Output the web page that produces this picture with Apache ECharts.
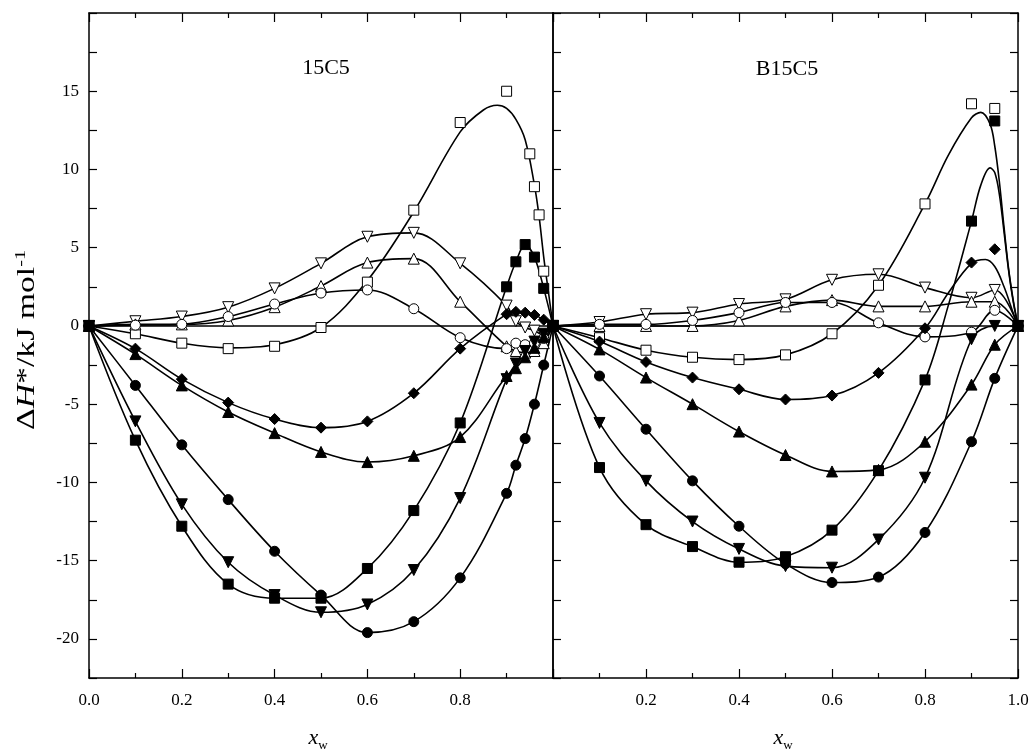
<!DOCTYPE html>
<html><head><meta charset="utf-8">
<script src="https://cdn.jsdelivr.net/npm/echarts@6/dist/echarts.min.js"></script>
<style>html,body{margin:0;padding:0;background:#fff}#c{width:1033px;height:754px}</style>
</head><body><div id="c"></div>
<script>
// ---------- Panel A: 15C5 ----------
const xA = [0,0.1,0.2,0.3,0.4,0.5,0.6,0.7,0.8,0.9,0.92,0.94,0.96,0.98,1.0];
const xA_openSquare = [0,0.1,0.2,0.3,0.4,0.5,0.6,0.7,0.8,0.9,0.95,0.96,0.97,0.98,1.0];
const A_openSquare = [0,-0.5,-1.1,-1.45,-1.3,-0.1,2.8,7.4,13.0,15.0,11.0,8.9,7.1,3.5,0];
const A_openDown   = [0,0.3,0.6,1.2,2.4,4.0,5.7,5.95,4.0,1.3,0.3,-0.1,-0.3,-0.6,0];
const A_openUp     = [0,0.1,0.1,0.35,1.2,2.55,4.05,4.3,1.55,-1.3,-1.6,-1.7,-1.6,-1.1,0];
const A_openCircle = [0,0.05,0.1,0.6,1.4,2.1,2.3,1.1,-0.75,-1.45,-1.1,-1.2,-1.1,-0.8,0];
const A_diamond    = [0,-1.45,-3.4,-4.9,-5.95,-6.5,-6.1,-4.3,-1.45,0.75,0.9,0.85,0.7,0.4,0];
const A_up         = [0,-1.8,-3.8,-5.5,-6.85,-8.05,-8.7,-8.3,-7.1,-3.2,-2.7,-2.0,-1.4,-0.7,0];
const A_circle     = [0,-3.8,-7.6,-11.1,-14.4,-17.2,-19.6,-18.9,-16.1,-10.7,-8.9,-7.2,-5.0,-2.5,0];
const A_down       = [0,-6.1,-11.4,-15.1,-17.2,-18.3,-17.8,-15.6,-11.0,-3.4,-2.4,-1.6,-1.0,-0.5,0];
const A_square     = [0,-7.3,-12.8,-16.5,-17.4,-17.4,-15.5,-11.8,-6.2,2.5,4.1,5.2,4.4,2.4,0];
// fitted curve (open squares, 15C5)
const xA_openSquareFit = [0,0.1,0.2,0.3,0.4,0.5,0.6,0.7,0.8,0.85,0.88,0.9,0.92,0.94,0.96,0.97,0.98,0.99,1.0];
const A_openSquareFit  = [0,-0.5,-1.1,-1.4,-1.2,-0.1,2.9,7.3,12.4,13.8,14.1,13.9,13.2,11.9,9.0,7.0,4.4,2.2,0];

// ---------- Panel B: B15C5 ----------
const xB = [0,0.1,0.2,0.3,0.4,0.5,0.6,0.7,0.8,0.9,0.95,1.0];
const B_openSquare = [0,-0.75,-1.55,-2.0,-2.15,-1.85,-0.5,2.6,7.8,14.2,13.9,0];
const B_openDown   = [0,0.25,0.75,0.85,1.4,1.7,2.95,3.3,2.45,1.8,2.3,0];
const B_openUp     = [0,0,0,0,0.35,1.25,1.65,1.25,1.25,1.55,1.55,0];
const B_openCircle = [0,0.1,0.1,0.35,0.85,1.5,1.5,0.2,-0.7,-0.4,1.0,0];
const B_diamond    = [0,-1.0,-2.3,-3.3,-4.05,-4.7,-4.45,-3.0,-0.15,4.05,4.9,0];
const B_up         = [0,-1.5,-3.3,-5.0,-6.75,-8.25,-9.3,-9.2,-7.4,-3.75,-1.2,0];
const B_circle     = [0,-3.2,-6.6,-9.9,-12.8,-15.2,-16.4,-16.05,-13.2,-7.4,-3.35,0];
const B_down       = [0,-6.2,-9.9,-12.5,-14.25,-15.35,-15.45,-13.65,-9.7,-0.85,0.0,0];
const B_square     = [0,-9.05,-12.7,-14.1,-15.1,-14.75,-13.05,-9.25,-3.45,6.7,13.1,0];
// fitted curves (B15C5)
const xB_openSquareFit = [0,0.1,0.2,0.3,0.4,0.5,0.6,0.7,0.8,0.85,0.9,0.92,0.94,0.95,0.96,0.97,0.98,0.99,1.0];
const B_openSquareFit  = [0,-0.75,-1.55,-2.0,-2.15,-1.85,-0.5,2.6,7.8,10.9,13.3,13.65,12.9,11.5,9.2,6.3,3.6,1.6,0];
const xB_squareFit = [0,0.1,0.2,0.3,0.4,0.5,0.6,0.7,0.8,0.85,0.9,0.92,0.94,0.95,0.96,0.97,0.98,0.99,1.0];
const B_squareFit  = [0,-9.05,-12.7,-14.1,-15.1,-14.75,-13.05,-9.25,-3.45,1.3,6.7,9.0,10.1,9.8,8.4,6.0,3.5,1.5,0];
const xB_diamondFit = [0,0.1,0.2,0.3,0.4,0.5,0.6,0.7,0.8,0.85,0.9,0.93,0.95,0.97,0.99,1.0];
const B_diamondFit  = [0,-1.0,-2.3,-3.3,-4.05,-4.7,-4.45,-3.0,-0.15,2.1,4.0,4.25,3.8,2.5,0.8,0];

const zeroX = [0,1];
const zeroY = [0,0];

// texts
const panelTitles = ['15C5','B15C5'];

// ---------- styles ----------
const SERIF = '"Liberation Serif","Times New Roman",serif';
const markerStyles = {
  openSquare: {symbol:'rect', size:10, rotate:0, fill:'#fff'},
  openDown:   {symbol:'triangle', size:11, rotate:180, fill:'#fff'},
  openUp:     {symbol:'triangle', size:11, rotate:0, fill:'#fff'},
  openCircle: {symbol:'circle', size:10, rotate:0, fill:'#fff'},
  diamond:    {symbol:'diamond', size:11, rotate:0, fill:'#000'},
  up:         {symbol:'triangle', size:11, rotate:0, fill:'#000'},
  circle:     {symbol:'circle', size:10, rotate:0, fill:'#000'},
  down:       {symbol:'triangle', size:11, rotate:180, fill:'#000'},
  square:     {symbol:'rect', size:10, rotate:0, fill:'#000'}
};
const zip = (xs, ys) => xs.map((x, i) => [x, ys[i]]);

const panelA = {
  openSquare: [xA_openSquare, A_openSquare, xA_openSquareFit, A_openSquareFit],
  openDown: [xA, A_openDown], openUp: [xA, A_openUp], openCircle: [xA, A_openCircle],
  diamond: [xA, A_diamond], up: [xA, A_up], circle: [xA, A_circle],
  down: [xA, A_down], square: [xA, A_square]
};
const panelB = {
  openSquare: [xB, B_openSquare, xB_openSquareFit, B_openSquareFit],
  openDown: [xB, B_openDown], openUp: [xB, B_openUp], openCircle: [xB, B_openCircle],
  diamond: [xB, B_diamond, xB_diamondFit, B_diamondFit], up: [xB, B_up], circle: [xB, B_circle],
  down: [xB, B_down], square: [xB, B_square, xB_squareFit, B_squareFit]
};

const series = [];
function addPanel(panel, xi, yi) {
  series.push({type:'line', xAxisIndex:xi, yAxisIndex:yi, data: zip(zeroX, zeroY), showSymbol:false,
    lineStyle:{color:'#000', width:1.6}, z:1, silent:true});
  for (const key of Object.keys(panel)) {
    const d = panel[key];
    const cx = d[2] || d[0], cy = d[3] || d[1];
    series.push({type:'line', xAxisIndex:xi, yAxisIndex:yi, data: zip(cx, cy), smooth:0.35,
      showSymbol:false, lineStyle:{color:'#000', width:1.6}, z:2, silent:true});
  }
  for (const key of Object.keys(panel)) {
    const d = panel[key], m = markerStyles[key];
    series.push({type:'scatter', xAxisIndex:xi, yAxisIndex:yi, data: zip(d[0], d[1]),
      symbol:m.symbol, symbolSize:m.size, symbolRotate:m.rotate,
      itemStyle:{color:m.fill, borderColor:'#000', borderWidth:1, opacity:1}, z:3, silent:true});
  }
}
addPanel(panelA, 0, 0);
addPanel(panelB, 2, 2);

const axisLine = {show:true, onZero:false, lineStyle:{color:'#000', width:1.5}};
function xAx(grid, pos, labels, hideVal) {
  return {type:'value', gridIndex:grid, position:pos, min:0, max:1, interval:0.2,
    axisLine, splitLine:{show:false},
    axisTick:{show:true, inside:true, length:9, lineStyle:{color:'#000', width:1.2}},
    minorTick:{show:true, splitNumber:2, length:5, lineStyle:{color:'#000', width:1.2}},
    minorSplitLine:{show:false},
    axisLabel:{show:labels, margin:14, color:'#000', fontFamily:SERIF, fontSize:17,
      formatter: v => (Math.abs(v - hideVal) < 1e-6 ? '' : v.toFixed(1))}};
}
function yAx(grid, pos, labels, ticks) {
  return {type:'value', gridIndex:grid, position:pos, min:-22.5, max:20, interval:2.5,
    axisLine, splitLine:{show:false},
    axisTick:{show:ticks, inside:true, length:8, lineStyle:{color:'#000', width:1.2}},
    axisLabel:{show:labels, margin:10, color:'#000', fontFamily:SERIF, fontSize:17,
      formatter: v => (Math.abs(v % 5) < 1e-6 && v < 19 ? String(v) : '')}};
}

const xTitleRich = {i:{fontStyle:'italic', fontSize:22, fontFamily:SERIF}, s:{fontSize:13, fontFamily:SERIF, padding:[16,0,0,0]}};
const option = {
  animation:false,
  backgroundColor:'#fff',
  grid:[{left:89, top:13, width:464, height:665}, {left:553, top:13, width:465, height:665}],
  xAxis:[xAx(0,'bottom',true,1), xAx(0,'top',false,1), xAx(1,'bottom',true,0), xAx(1,'top',false,0)],
  yAxis:[yAx(0,'left',true,true), yAx(0,'right',false,false), yAx(1,'left',false,true), yAx(1,'right',false,true)],
  series,
  graphic:[
    {type:'text', x:326, y:68, style:{text:panelTitles[0], font:'22px '+SERIF, fill:'#000', align:'center', verticalAlign:'middle'}},
    {type:'text', x:787, y:69, style:{text:panelTitles[1], font:'22px '+SERIF, fill:'#000', align:'center', verticalAlign:'middle'}},
    {type:'text', x:27, y:340, rotation:Math.PI/2, scaleX:1.35, scaleY:1,
      style:{text:'Δ{i|H}*/kJ mol{sup|-1}', font:'25px '+SERIF, fill:'#000', align:'center', verticalAlign:'middle',
        rich:{i:{fontStyle:'italic', fontSize:25, fontFamily:SERIF}, sup:{fontSize:15, fontFamily:SERIF, verticalAlign:'top', padding:[0,0,12,0]}}}},
    {type:'text', x:318, y:738, style:{text:'{i|x}{s|w}', align:'center', verticalAlign:'middle', fill:'#000', rich:xTitleRich}},
    {type:'text', x:783, y:738, style:{text:'{i|x}{s|w}', align:'center', verticalAlign:'middle', fill:'#000', rich:xTitleRich}}
  ]
};
const chart = echarts.init(document.getElementById('c'), null, {renderer:'canvas'});
chart.setOption(option);
</script>
</body></html>
